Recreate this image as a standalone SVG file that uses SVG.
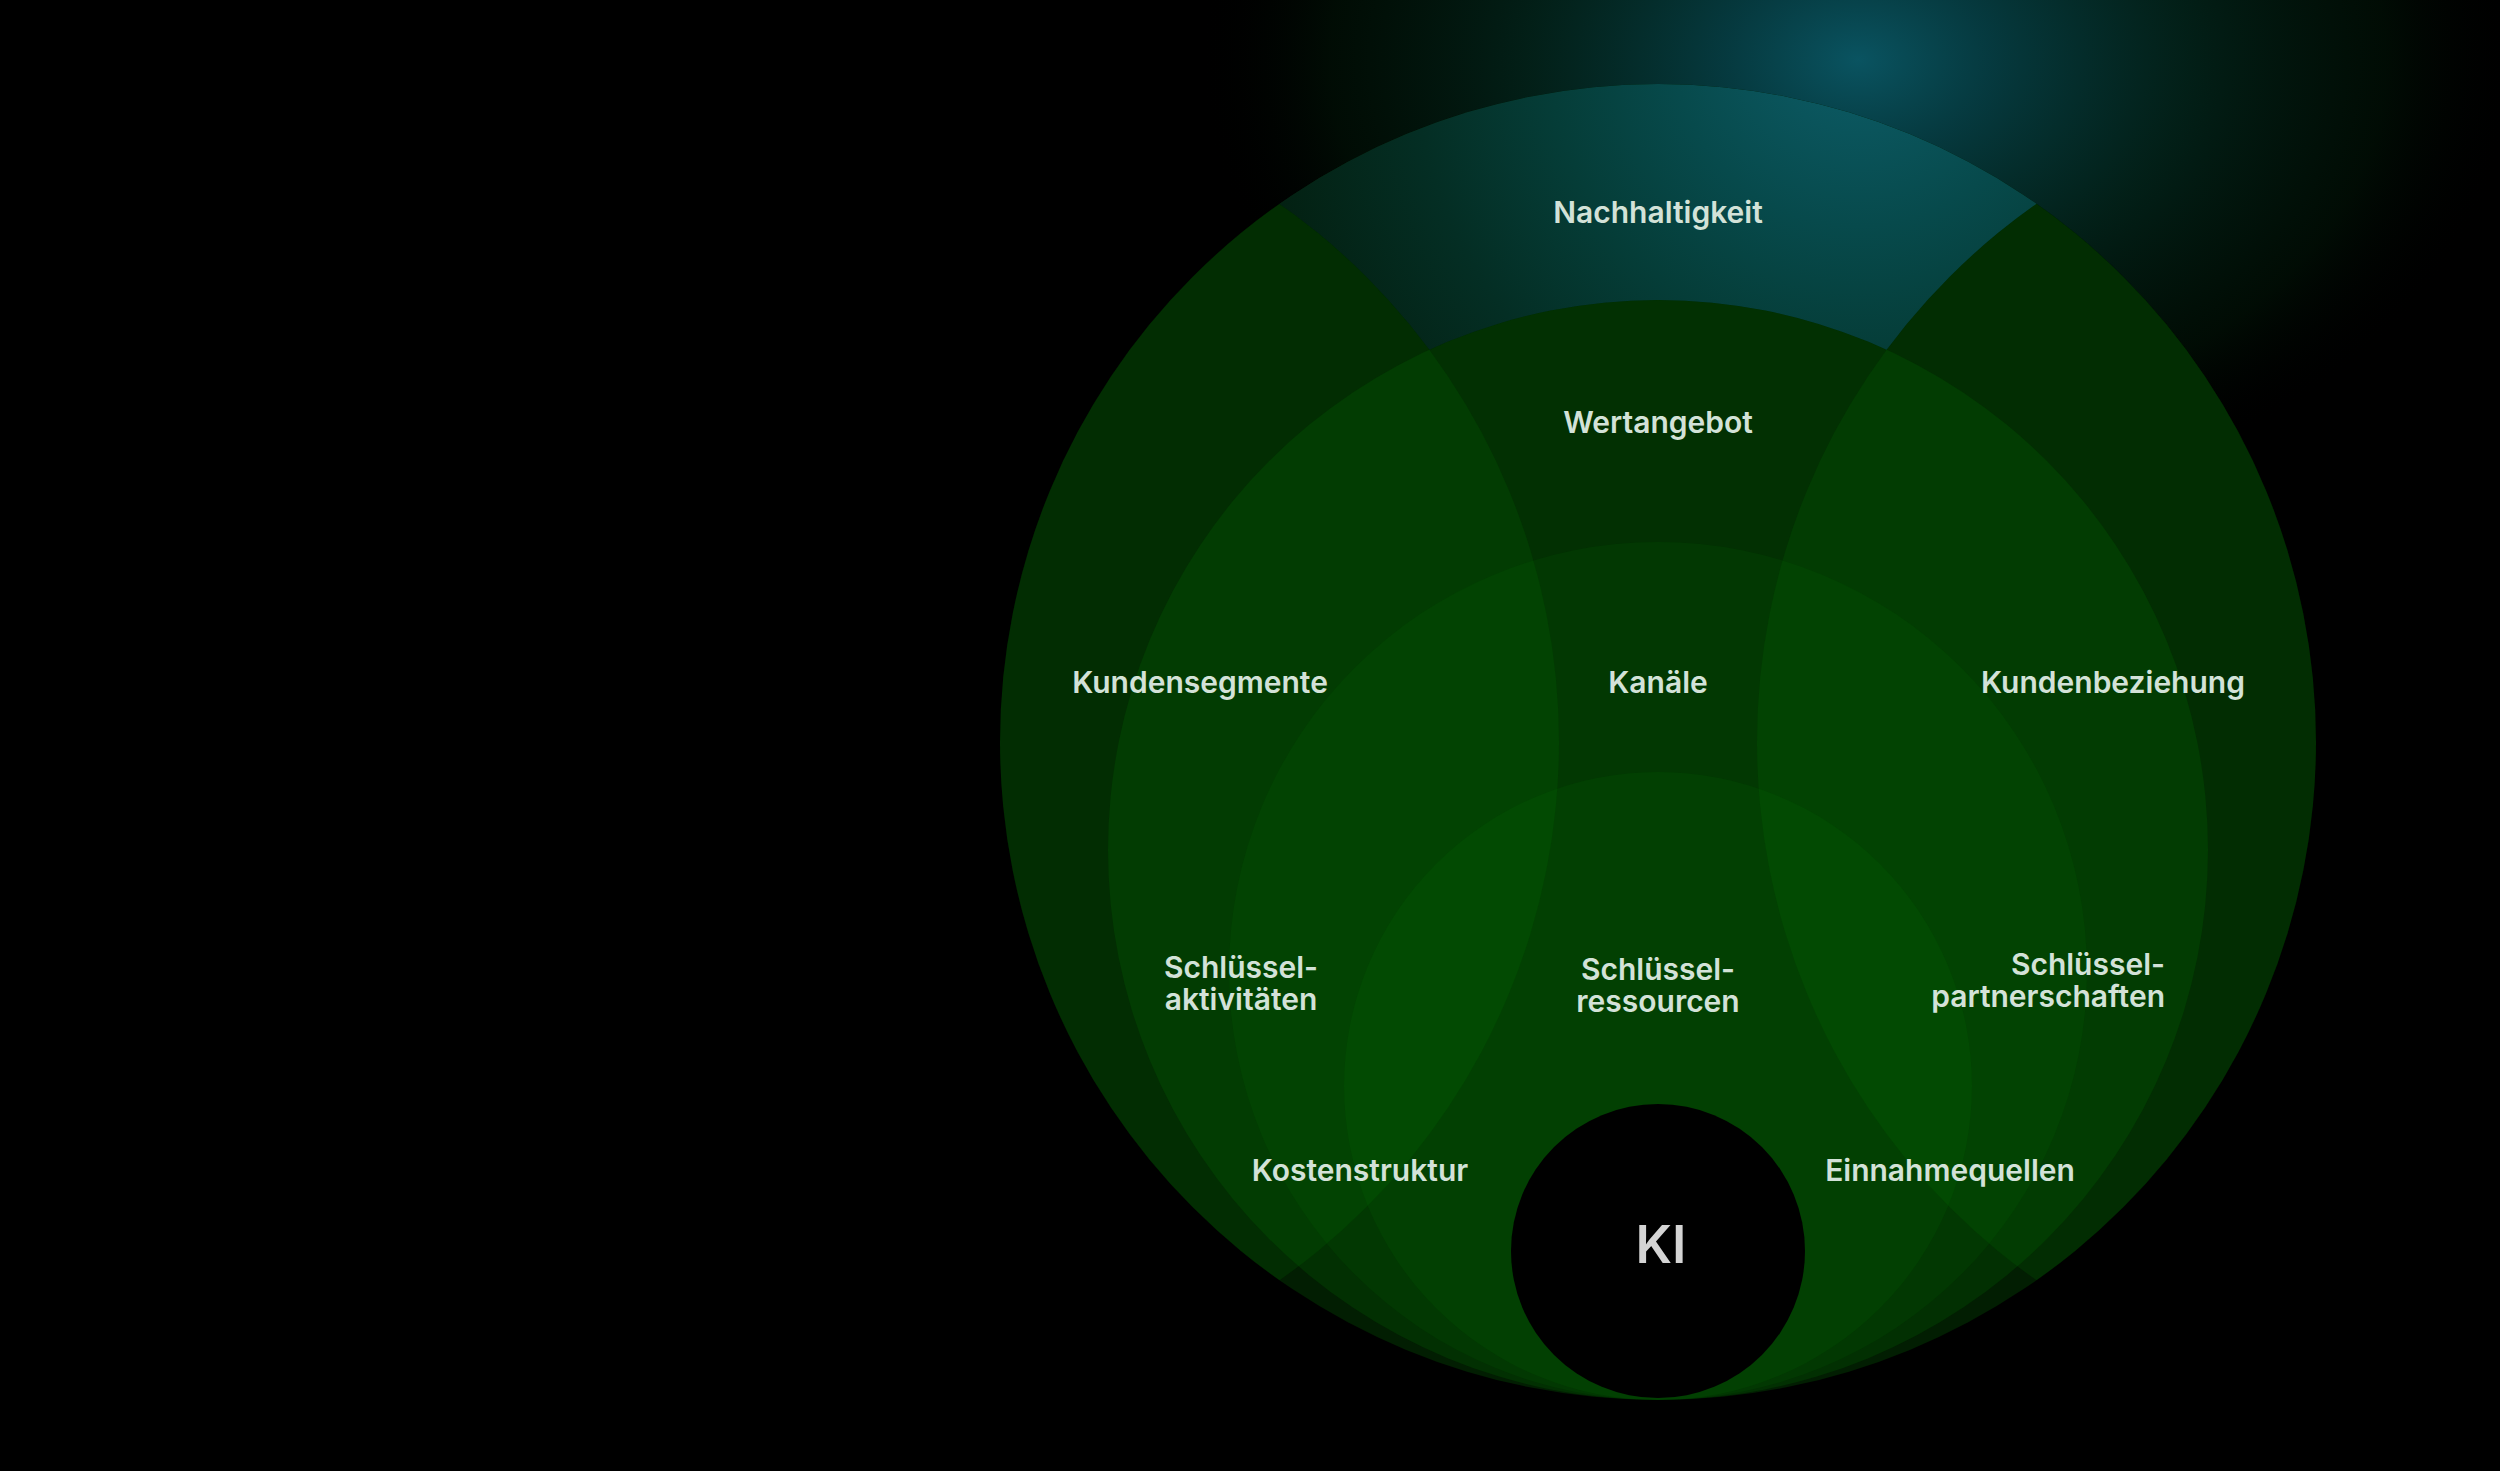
<svg xmlns="http://www.w3.org/2000/svg" width="2500" height="1471" viewBox="0 0 2500 1471">
  <defs>
    <style>
      .lbl { font-family: Inter, "Noto Sans", "Liberation Sans", sans-serif; font-size: 30px; font-weight: 600; fill: #d3e2d8; }
      .ki { font-family: Inter, "Noto Sans", "Liberation Sans", sans-serif; font-size: 52px; font-weight: 600; fill: #d4d4d4; }
      .layer { fill: #067206; }
    </style>
    <radialGradient id="glow" cx="1858" cy="60" r="660" gradientUnits="userSpaceOnUse" gradientTransform="translate(1858 60) scale(1 0.7) translate(-1858 -60)">
      <stop offset="0" stop-color="#0a5866" stop-opacity="0.95"/>
      <stop offset="0.2" stop-color="#07484f" stop-opacity="0.8"/>
      <stop offset="0.5" stop-color="#043427" stop-opacity="0.6"/>
      <stop offset="0.8" stop-color="#02220c" stop-opacity="0.35"/>
      <stop offset="1" stop-color="#000000" stop-opacity="0"/>
    </radialGradient>
    <radialGradient id="teal" cx="1858" cy="40" r="620" gradientUnits="userSpaceOnUse">
      <stop offset="0" stop-color="#0d5e6a"/>
      <stop offset="0.3" stop-color="#074a4c"/>
      <stop offset="0.5" stop-color="#053d38"/>
      <stop offset="0.72" stop-color="#042e24"/>
      <stop offset="1" stop-color="#031f10"/>
    </radialGradient>
    <mask id="tealMask" maskUnits="userSpaceOnUse" x="0" y="0" width="2500" height="1471">
      <rect x="0" y="0" width="2500" height="1471" fill="#000"/>
      <circle cx="1658" cy="742" r="658" fill="#fff"/>
      <circle cx="901" cy="742" r="658" fill="#000"/>
      <circle cx="2415" cy="742" r="658" fill="#000"/>
      <circle cx="1658" cy="850" r="550" fill="#000"/>
      <rect x="0" y="620" width="2500" height="900" fill="#000"/>
    </mask>
    <clipPath id="outerClip">
      <circle cx="1658" cy="742" r="658"/>
    </clipPath>
  </defs>

  <rect x="0" y="0" width="2500" height="1471" fill="#000000"/>
  <rect id="glow-area" x="1100" y="0" width="1400" height="700" fill="url(#glow)"/>

  <g id="nachhaltigkeit">
    <circle cx="1658" cy="742" r="658" fill="#000000"/>
    <circle class="layer" cx="1658" cy="742" r="658" fill-opacity="0.26"/>
    <rect x="1000" y="80" width="1320" height="560" fill="url(#teal)" mask="url(#tealMask)"/>
  </g>
  <g id="kundensegmente" clip-path="url(#outerClip)">
    <circle class="layer" cx="901" cy="742" r="658" fill-opacity="0.18"/>
  </g>
  <g id="kundenbeziehung" clip-path="url(#outerClip)">
    <circle class="layer" cx="2415" cy="742" r="658" fill-opacity="0.18"/>
  </g>
  <g id="wertangebot">
    <circle class="layer" cx="1658" cy="850" r="550" fill-opacity="0.22"/>
  </g>
  <g id="kanaele">
    <circle class="layer" cx="1658" cy="971" r="429" fill-opacity="0.13"/>
  </g>
  <g id="schluesselressourcen">
    <circle class="layer" cx="1658" cy="1086" r="314" fill-opacity="0.15"/>
  </g>
  <g id="ki">
    <circle cx="1658" cy="1251" r="147" fill="#000000"/>
    <text class="ki" x="1661" y="1263" text-anchor="middle">KI</text>
  </g>

  <g id="labels">
    <text class="lbl" x="1658" y="223" text-anchor="middle">Nachhaltigkeit</text>
    <text class="lbl" x="1658" y="433" text-anchor="middle">Wertangebot</text>
    <text class="lbl" x="1200" y="693" text-anchor="middle">Kundensegmente</text>
    <text class="lbl" x="1658" y="693" text-anchor="middle">Kanäle</text>
    <text class="lbl" x="2113" y="693" text-anchor="middle">Kundenbeziehung</text>
    <text class="lbl" x="1241" y="978" text-anchor="middle">Schlüssel-</text>
    <text class="lbl" x="1241" y="1010" text-anchor="middle">aktivitäten</text>
    <text class="lbl" x="1658" y="980" text-anchor="middle">Schlüssel-</text>
    <text class="lbl" x="1658" y="1012" text-anchor="middle">ressourcen</text>
    <text class="lbl" x="2165" y="975" text-anchor="end">Schlüssel-</text>
    <text class="lbl" x="2165" y="1007" text-anchor="end">partnerschaften</text>
    <text class="lbl" x="1360" y="1181" text-anchor="middle">Kostenstruktur</text>
    <text class="lbl" x="1950" y="1181" text-anchor="middle">Einnahmequellen</text>
  </g>
</svg>
